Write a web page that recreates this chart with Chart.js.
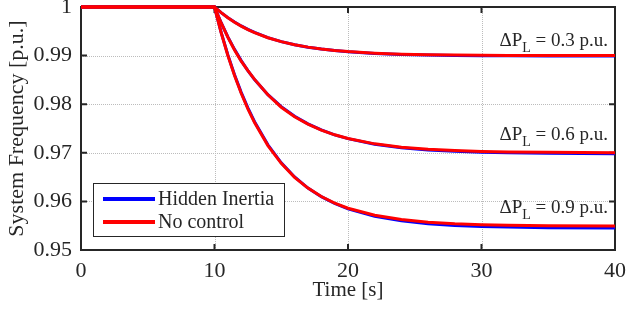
<!DOCTYPE html>
<html><head><meta charset="utf-8">
<script src="https://cdn.jsdelivr.net/npm/chart.js@4.4.0/dist/chart.umd.min.js"></script>
<style>html,body{margin:0;padding:0;background:#fff;} #wrap{position:relative;width:626px;height:315px;}</style>
</head><body><div id="wrap"><canvas id="c" width="626" height="315"></canvas></div>
<script>
// ---- data ----
const time = [0, 10, 10.5, 11, 11.5, 12, 12.5, 13, 14, 15, 16, 17, 18, 19, 20, 22, 24, 26, 28, 30, 32, 35, 40];
const hidden03 = [1, 1, 0.99884, 0.99781, 0.99691, 0.99610, 0.99539, 0.99476, 0.99371, 0.99288, 0.99224, 0.99173, 0.99134, 0.99103, 0.99078, 0.99044, 0.99023, 0.99010, 0.99003, 0.98998, 0.98995, 0.98992, 0.98991];
const hidden06 = [1, 1, 0.99676, 0.99386, 0.99128, 0.98897, 0.98691, 0.98507, 0.98197, 0.97949, 0.97752, 0.97595, 0.97470, 0.97370, 0.97291, 0.97178, 0.97105, 0.97059, 0.97030, 0.97012, 0.97000, 0.96990, 0.96983];
const hidden09 = [1, 1, 0.99478, 0.99015, 0.98606, 0.98244, 0.97923, 0.97639, 0.97165, 0.96794, 0.96503, 0.96275, 0.96097, 0.95957, 0.95847, 0.95694, 0.95600, 0.95542, 0.95506, 0.95485, 0.95471, 0.95460, 0.95453];
const noctrl03 = [1, 1, 0.99883, 0.99779, 0.99687, 0.99607, 0.99535, 0.99472, 0.99368, 0.99287, 0.99223, 0.99174, 0.99135, 0.99105, 0.99082, 0.99050, 0.99030, 0.99018, 0.99011, 0.99007, 0.99004, 0.99002, 0.99001];
const noctrl06 = [1, 1, 0.99671, 0.99378, 0.99117, 0.98884, 0.98690, 0.98510, 0.98195, 0.97938, 0.97743, 0.97589, 0.97467, 0.97370, 0.97293, 0.97184, 0.97116, 0.97073, 0.97046, 0.97029, 0.97018, 0.97009, 0.97003];
const noctrl09 = [1, 1, 0.99470, 0.99002, 0.98590, 0.98225, 0.97904, 0.97621, 0.97149, 0.96782, 0.96496, 0.96274, 0.96100, 0.95965, 0.95860, 0.95715, 0.95626, 0.95573, 0.95540, 0.95520, 0.95508, 0.95499, 0.95493];
const seriesNames = ['Hidden Inertia', 'No control'];
const loadLabels = ['0.3', '0.6', '0.9'];
const xTicks = [0, 10, 20, 30, 40];
const yTicks = [0.95, 0.96, 0.97, 0.98, 0.99, 1];
const yTickLabels = ['0.95', '0.96', '0.97', '0.98', '0.99', '1'];

// ---- styling ----
const FONT = '"Liberation Serif", "DejaVu Serif", serif';
const TXT = '#262626';
const BLUE = 'rgb(0,0,255)';
const RED = 'rgb(255,0,0)';

const pts = arr => time.map((t, i) => ({x: t, y: arr[i]}));
const mk = (arr, color, order, name) => ({
  label: name, data: pts(arr), borderColor: color, backgroundColor: color,
  borderWidth: 3, pointRadius: 0, tension: 0, fill: false, order: order, clip: 4
});

const datasets = [
  mk(noctrl03, RED, 0, seriesNames[1]), mk(noctrl06, RED, 0, seriesNames[1]), mk(noctrl09, RED, 0, seriesNames[1]),
  mk(hidden03, BLUE, 1, seriesNames[0]), mk(hidden06, BLUE, 1, seriesNames[0]), mk(hidden09, BLUE, 1, seriesNames[0])
];

const framePlugin = {
  id: 'frame',
  beforeDatasetsDraw(chart) {
    const {ctx, chartArea: a, scales: {x, y}} = chart;
    ctx.save();
    // dotted grid
    ctx.strokeStyle = '#bcbcbc'; ctx.lineWidth = 1; ctx.setLineDash([1, 1]);
    ctx.beginPath();
    xTicks.forEach(v => { const px = Math.round(x.getPixelForValue(v)) + 0.5; ctx.moveTo(px, a.top); ctx.lineTo(px, a.bottom); });
    yTicks.forEach(v => { const py = Math.round(y.getPixelForValue(v)) + 0.5; ctx.moveTo(a.left, py); ctx.lineTo(a.right, py); });
    ctx.stroke();
    ctx.setLineDash([]);
    // box + inward ticks
    ctx.strokeStyle = TXT; ctx.lineWidth = 2;
    ctx.strokeRect(a.left, a.top, a.right - a.left, a.bottom - a.top);
    const L = 6;
    ctx.beginPath();
    xTicks.forEach(v => { const px = x.getPixelForValue(v);
      ctx.moveTo(px, a.bottom); ctx.lineTo(px, a.bottom - L);
      ctx.moveTo(px, a.top); ctx.lineTo(px, a.top + L); });
    yTicks.forEach(v => { const py = y.getPixelForValue(v);
      ctx.moveTo(a.left, py); ctx.lineTo(a.left + L, py);
      ctx.moveTo(a.right, py); ctx.lineTo(a.right - L, py); });
    ctx.stroke();
    ctx.restore();
  },
  afterDraw(chart, args, opts) {
    const {ctx, scales: {x, y}} = chart;
    ctx.save();
    ctx.fillStyle = TXT;
    ctx.textBaseline = 'alphabetic';
    ctx.textAlign = 'left';
    const xr = x.getPixelForValue(40) - 7;
    opts.labelY.forEach((yv, i) => {
      const yb = y.getPixelForValue(yv);
      const main = '19px ' + FONT, sub = '14px ' + FONT;
      const tail = ' = ' + loadLabels[i] + ' p.u.';
      ctx.font = main; const wT = ctx.measureText(tail).width; const wD = ctx.measureText('\u0394P').width;
      ctx.font = sub; const wL = ctx.measureText('L').width;
      const x0 = xr - wT - wL - wD;
      ctx.font = main; ctx.fillText('\u0394P', x0, yb);
      ctx.font = sub; ctx.fillText('L', x0 + wD, yb + 6);
      ctx.font = main; ctx.fillText(tail, x0 + wD + wL, yb);
    });
    // legend box
    const b = opts.legendBox;
    ctx.fillStyle = '#fff';
    ctx.fillRect(b.x, b.y, b.w, b.h);
    ctx.strokeStyle = TXT; ctx.lineWidth = 1;
    ctx.strokeRect(b.x + 0.5, b.y + 0.5, b.w, b.h);
    const colors = [BLUE, RED];
    seriesNames.forEach((n, i) => {
      const yy = b.y + 16 + i * 23;
      ctx.strokeStyle = colors[i]; ctx.lineWidth = 4;
      ctx.beginPath(); ctx.moveTo(b.x + 10, yy); ctx.lineTo(b.x + 62, yy); ctx.stroke();
      ctx.fillStyle = TXT; ctx.font = '20px ' + FONT; ctx.textBaseline = 'middle';
      ctx.fillText(n, b.x + 65, yy + 1);
    });
    ctx.restore();
  }
};

new Chart(document.getElementById('c'), {
  type: 'line',
  data: {datasets},
  plugins: [framePlugin],
  options: {
    responsive: false, animation: false, devicePixelRatio: 1,
    layout: {padding: {top: 7, right: 11, left: 0, bottom: 0}},
    plugins: {
      legend: {display: false}, tooltip: {enabled: false},
      frame: {labelY: [0.99205, 0.97265, 0.95765], legendBox: {x: 93, y: 183, w: 191, h: 53}}
    },
    scales: {
      x: {
        type: 'linear', min: 0, max: 40,
        afterBuildTicks: s => { s.ticks = xTicks.map(v => ({value: v})); },
        afterFit: s => { s.height = 65; s.paddingLeft = 0; s.paddingRight = 0; },
        ticks: {font: {family: FONT, size: 22}, color: TXT, padding: 8, maxRotation: 0},
        grid: {display: false, drawTicks: false},
        border: {display: false},
        title: {display: true, text: 'Time [s]', font: {family: FONT, size: 21}, color: TXT, padding: {top: 0, bottom: 12}}
      },
      y: {
        type: 'linear', min: 0.95, max: 1,
        afterBuildTicks: s => { s.ticks = yTicks.map(v => ({value: v})); },
        afterFit: s => { s.width = 81; s.paddingTop = 0; s.paddingBottom = 0; },
        ticks: {font: {family: FONT, size: 22}, color: TXT, padding: 9,
          callback: (v) => { const i = yTicks.findIndex(t => Math.abs(t - v) < 1e-9); return i >= 0 ? yTickLabels[i] : ''; }},
        grid: {display: false, drawTicks: false},
        border: {display: false},
        title: {display: true, text: 'System Frequency [p.u.]', font: {family: FONT, size: 22}, color: TXT, padding: {top: 4, bottom: 0}}
      }
    }
  }
});
</script></body></html>
